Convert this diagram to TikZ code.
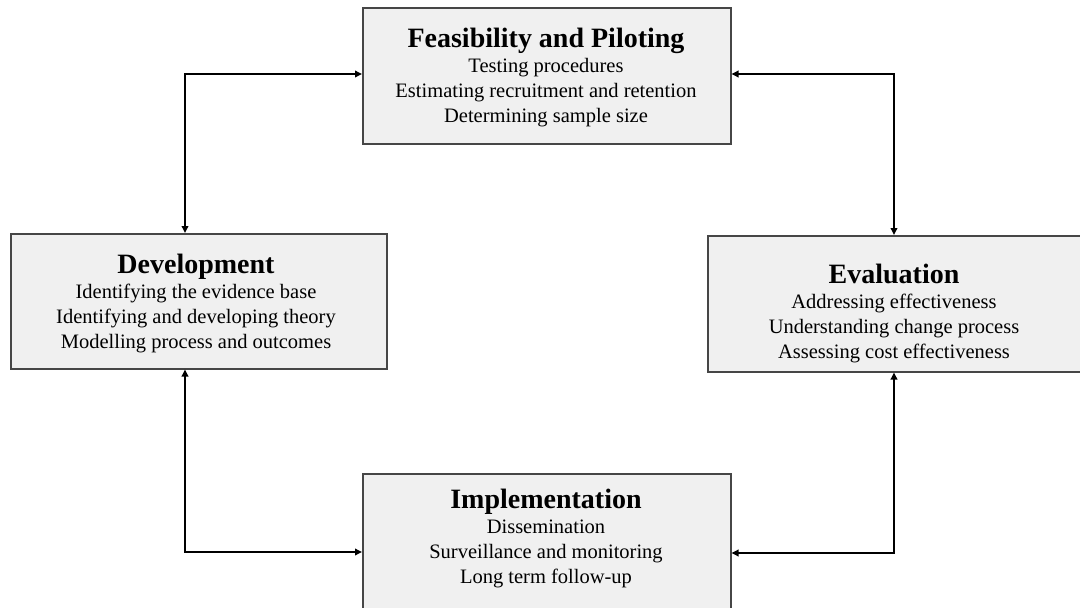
\documentclass[tikz,border=0pt]{standalone}
\usepackage{fontspec}
\setmainfont{Liberation Serif}
\usetikzlibrary{arrows.meta}
\definecolor{boxfill}{RGB}{240,240,240}
\definecolor{boxline}{RGB}{70,70,70}
\tikzset{
  stagebox/.style={draw=boxline, line width=1.5pt, fill=boxfill, rectangle, inner sep=0pt, anchor=north west},
  stagetext/.style={align=center, inner sep=0pt, anchor=north, font=\fontsize{20.5}{25}\selectfont},
  link/.style={draw=black, line width=1.8pt, {Triangle[length=7pt,width=6.5pt]}-{Triangle[length=7pt,width=6.5pt]}}
}
\newcommand{\stagettl}[1]{{\fontsize{28}{30}\selectfont\bfseries #1}}
\begin{document}
\begin{tikzpicture}[x=1pt,y=1pt]
\useasboundingbox (0,0) rectangle (1080,-608);
\clip (0,0) rectangle (1080,-608);
% boxes
\node[stagebox, minimum width=368pt, minimum height=136pt] (feas) at (362,-7) {};
\node[stagebox, minimum width=376pt, minimum height=135pt] (dev) at (10,-233) {};
\node[stagebox, minimum width=374pt, minimum height=136pt] (eval) at (707,-235) {};
\node[stagebox, minimum width=368pt, minimum height=140pt] (impl) at (362,-473) {};
% texts
\node[stagetext] (feasT) at (546,-28) {\stagettl{Feasibility and Piloting}\\Testing procedures\\Estimating recruitment and retention\\Determining sample size};
\node[stagetext] (devT) at (196,-254) {\stagettl{Development}\\Identifying the evidence base\\Identifying and developing theory\\Modelling process and outcomes};
\node[stagetext] (evalT) at (894,-264) {\stagettl{Evaluation}\\Addressing effectiveness\\Understanding change process\\Assessing cost effectiveness};
\node[stagetext] (implT) at (546,-489) {\stagettl{Implementation}\\Dissemination\\Surveillance and monitoring\\Long term follow-up};
% corner coordinates
\coordinate (cTL) at (185,-74);
\coordinate (cTR) at (894,-74);
\coordinate (cBR) at (894,-553);
\coordinate (cBL) at (185,-552);
% connectors
\draw[link] (dev.north -| cTL) -- (cTL) -- (feas.west |- cTL);
\draw[link] (feas.east |- cTR) -- (cTR) -- (eval.north -| cTR);
\draw[link] (eval.south -| cBR) -- (cBR) -- (impl.east |- cBR);
\draw[link] (impl.west |- cBL) -- (cBL) -- (dev.south -| cBL);
\end{tikzpicture}
\end{document}
